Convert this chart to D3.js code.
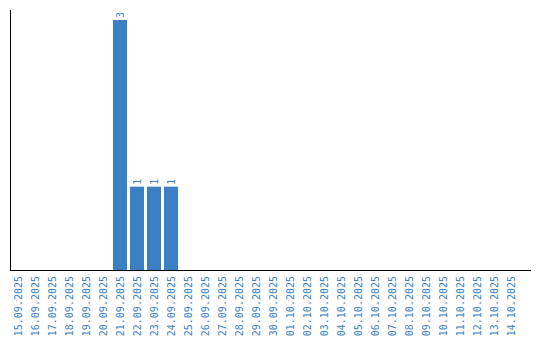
<!DOCTYPE html>
<html><head><meta charset="utf-8">
<script src="https://cdn.jsdelivr.net/npm/d3@7"></script>
<style>body{margin:0;background:#fff}svg{display:block}</style>
</head><body><svg id="c" width="540" height="340"></svg>
<script>
const categories = ["15.09.2025","16.09.2025","17.09.2025","18.09.2025","19.09.2025","20.09.2025","21.09.2025","22.09.2025","23.09.2025","24.09.2025","25.09.2025","26.09.2025","27.09.2025","28.09.2025","29.09.2025","30.09.2025","01.10.2025","02.10.2025","03.10.2025","04.10.2025","05.10.2025","06.10.2025","07.10.2025","08.10.2025","09.10.2025","10.10.2025","11.10.2025","12.10.2025","13.10.2025","14.10.2025"];
const values = [0,0,0,0,0,0,3,1,1,1,0,0,0,0,0,0,0,0,0,0,0,0,0,0,0,0,0,0,0,0];
const color = "#3b7fc4";
const svg = d3.select("#c");
const step = 17, pin = 3/17;
const x = d3.scaleBand().domain(categories).range([11, 11 + step*(categories.length - pin)]).paddingInner(pin).paddingOuter(0);
const y = d3.scaleLinear().domain([0,3]).range([270,20]);
const font = "'DejaVu Sans Mono', monospace";
const data = categories.map((c,i)=>({c, v: values[i]}));
svg.selectAll("rect.bar").data(data.filter(d=>d.v>0)).join("rect").attr("class","bar")
  .attr("x", d=>x(d.c)).attr("width", x.bandwidth())
  .attr("y", d=>y(d.v)).attr("height", d=>y(0)-y(d.v)).attr("fill", color);
svg.selectAll("text.val").data(data.filter(d=>d.v>0)).join("text").attr("class","val")
  .attr("transform", d=>`translate(${x(d.c)+x.bandwidth()/2+3.5},${y(d.v)-2}) rotate(-90)`)
  .attr("text-anchor","start").attr("font-family",font).attr("font-size",10).attr("fill",color)
  .text(d=>d.v);
// axes
svg.append("line").attr("x1",10.5).attr("x2",10.5).attr("y1",10).attr("y2",270).attr("stroke","#000");
svg.append("line").attr("x1",10).attr("x2",531).attr("y1",270.5).attr("y2",270.5).attr("stroke","#000");
const xa = svg.append("g").attr("transform","translate(0,270)").call(d3.axisBottom(x).tickSize(0).tickPadding(0));
xa.select(".domain").remove();
xa.selectAll("text").attr("font-family",font).attr("font-size",10).attr("fill",color)
  .attr("text-anchor","end").attr("dy",null).attr("y",0)
  .attr("transform","translate(3.5,6) rotate(-90)");
</script></body></html>
